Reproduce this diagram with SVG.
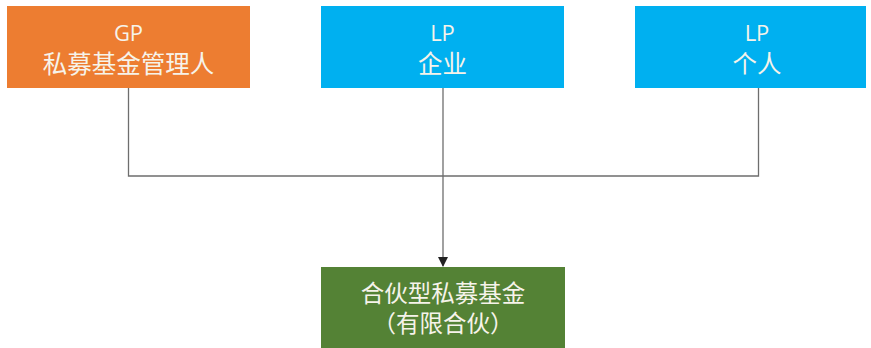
<svg xmlns="http://www.w3.org/2000/svg" width="871" height="348" viewBox="0 0 871 348">
<style>
.t{font-family:"Open Sans","Noto Sans CJK SC",sans-serif;fill:#F6F3EA;text-anchor:middle}
.en{font-size:22px}
.cn{font-size:24.5px}
.fd{font-size:23.5px}
.ln{stroke:#6E6E6E;stroke-width:1.3;fill:none}
</style>
<defs>
<marker id="ah" markerWidth="10" markerHeight="10" refX="9" refY="5" orient="auto" markerUnits="userSpaceOnUse">
<path d="M0,0 L10,5 L0,10 Z" fill="#222"/>
</marker>
</defs>
<rect width="871" height="348" fill="#fff"/>
<g id="connectors">
<path class="ln" d="M128.5,88 V176 H758.5 V88"/>
<path class="ln" d="M443,88 V266" marker-end="url(#ah)"/>
</g>
<g id="gp">
<rect x="7" y="6" width="243" height="82" fill="#ED7D31"/>
<text class="t en" x="128.5" y="41">GP</text>
<text class="t cn" x="128.5" y="73">私募基金管理人</text>
</g>
<g id="lp-company">
<rect x="321" y="6" width="243" height="82" fill="#00B0F0"/>
<text class="t en" x="442.5" y="41">LP</text>
<text class="t cn" x="442.5" y="73">企业</text>
</g>
<g id="lp-person">
<rect x="635" y="6" width="231" height="82" fill="#00B0F0"/>
<text class="t en" x="757" y="41">LP</text>
<text class="t cn" x="757" y="73">个人</text>
</g>
<g id="fund">
<rect x="321" y="267" width="244" height="85" fill="#548235"/>
<text class="t fd" x="443" y="302">合伙型私募基金</text>
<text class="t fd" x="443" y="332">（有限合伙）</text>
</g>
</svg>
